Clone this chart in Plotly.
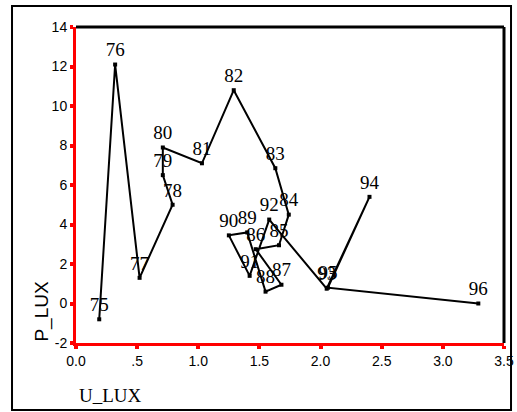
import plotly.graph_objects as go

case_ids = ["75", "76", "77", "78", "79", "80", "81", "82", "83", "84", "85",
            "86", "87", "88", "89", "90", "91", "92", "93", "94", "95", "96"]
u_lux = [0.19, 0.32, 0.52, 0.79, 0.71, 0.71, 1.03, 1.29, 1.63, 1.74, 1.66,
         1.47, 1.68, 1.55, 1.40, 1.25, 1.42, 1.58, 2.05, 2.40, 2.06, 3.29]
p_lux = [-0.8, 12.1, 1.3, 5.0, 6.5, 7.9, 7.1, 10.8, 6.85, 4.5, 2.95,
         2.75, 0.95, 0.6, 3.6, 3.45, 1.4, 4.25, 0.75, 5.4, 0.8, 0.0]

x_tickvals = [0, 0.5, 1.0, 1.5, 2.0, 2.5, 3.0, 3.5]
x_ticktext = ["0.0", ".5", "1.0", "1.5", "2.0", "2.5", "3.0", "3.5"]
y_tickvals = [-2, 0, 2, 4, 6, 8, 10, 12, 14]
y_ticktext = ["-2", "0", "2", "4", "6", "8", "10", "12", "14"]

fig = go.Figure()
fig.add_trace(go.Scatter(
    x=u_lux, y=p_lux, mode="lines+markers+text",
    text=case_ids, textposition="top center",
    textfont=dict(family="Liberation Serif", size=19, color="black"),
    line=dict(color="black", width=2),
    marker=dict(symbol="square", size=4, color="black"),
    cliponaxis=False, showlegend=False,
))

axis_common = dict(
    showgrid=False, zeroline=False, showline=True, linecolor="red", linewidth=3,
    ticks="outside", ticklen=3, tickwidth=4, tickcolor="red", automargin=False,
    tickfont=dict(family="Liberation Sans", size=14, color="black"),
)
fig.update_xaxes(range=[0, 3.5], tickvals=x_tickvals, ticktext=x_ticktext, **axis_common)
fig.update_yaxes(range=[-2, 14], tickvals=y_tickvals, ticktext=y_ticktext, ticklabelstandoff=0, **axis_common)

shapes = [
    # outer frame
    dict(type="rect", xref="paper", yref="paper", x0=-0.1495, x1=1.0164, y0=-0.212, y1=1.0665,
         line=dict(color="black", width=2), layer="below"),
    # top and right axis lines
    dict(type="line", xref="paper", yref="paper", x0=0, x1=1, y0=1, y1=1,
         line=dict(color="black", width=3)),
    dict(type="line", xref="paper", yref="paper", x0=1, x1=1, y0=0, y1=1,
         line=dict(color="black", width=3)),
]

annotations = [
    dict(text="U_LUX", xref="paper", yref="paper", x=0.003, y=-0.125,
         xanchor="left", yanchor="top", showarrow=False,
         font=dict(family="Liberation Serif", size=19, color="black")),
    dict(text="P_LUX", xref="paper", yref="paper", x=-0.079, y=0.1,
         xanchor="center", yanchor="middle", textangle=-90, showarrow=False,
         font=dict(family="Liberation Sans", size=19, color="black")),
]

fig.update_layout(
    width=517, height=412,
    margin=dict(l=76, r=13, t=27, b=69, autoexpand=False),
    paper_bgcolor="white", plot_bgcolor="white",
    shapes=shapes, annotations=annotations,
)

fig.write_html("out.html")
